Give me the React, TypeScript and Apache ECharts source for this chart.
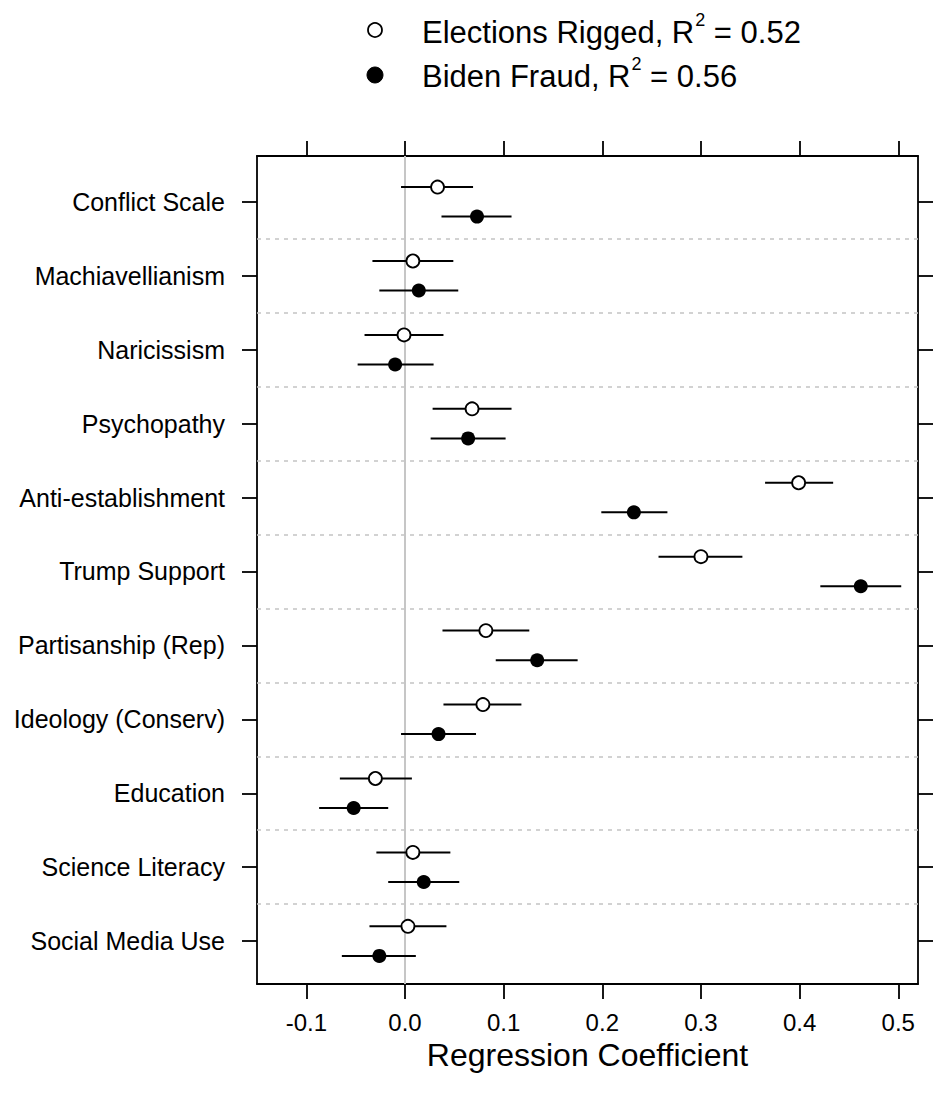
import React, { useEffect, useRef } from "react";
import * as echarts from "echarts";

const categories = [
  "Conflict Scale",
  "Machiavellianism",
  "Naricissism",
  "Psychopathy",
  "Anti-establishment",
  "Trump Support",
  "Partisanship (Rep)",
  "Ideology (Conserv)",
  "Education",
  "Science Literacy",
  "Social Media Use",
];

const riggedEst = [0.033, 0.008, -0.001, 0.068, 0.399, 0.3, 0.082, 0.079, -0.03, 0.008, 0.003];
const riggedLo = [-0.004, -0.033, -0.041, 0.028, 0.365, 0.257, 0.038, 0.039, -0.066, -0.029, -0.036];
const riggedHi = [0.069, 0.049, 0.039, 0.108, 0.434, 0.342, 0.126, 0.118, 0.007, 0.046, 0.042];

const fraudEst = [0.073, 0.014, -0.01, 0.064, 0.232, 0.462, 0.134, 0.034, -0.052, 0.019, -0.026];
const fraudLo = [0.037, -0.026, -0.048, 0.026, 0.199, 0.421, 0.092, -0.004, -0.087, -0.017, -0.064];
const fraudHi = [0.108, 0.054, 0.029, 0.102, 0.266, 0.503, 0.175, 0.072, -0.017, 0.055, 0.011];

const xTicks = [-0.1, 0, 0.1, 0.2, 0.3, 0.4, 0.5];
const yTicks = categories.map((_, i) => i + 1);
const separators = categories.slice(1).map((_, i) => i + 1.5);

const FONT = "'Liberation Sans', Arial, Helvetica, sans-serif";
const OFFSET = 0.2;

export default function App() {
  const ref = useRef<HTMLDivElement>(null);
  useEffect(() => {
    document.body.style.margin = "0";
    if (!ref.current) return;
    const chart = echarts.init(ref.current, null, { renderer: "svg" });

    const barData: number[][] = [];
    categories.forEach((_, i) => {
      barData.push([riggedLo[i], riggedHi[i], i + 1 - OFFSET]);
      barData.push([fraudLo[i], fraudHi[i], i + 1 + OFFSET]);
    });
    const riggedPts = categories.map((_, i) => [riggedEst[i], i + 1 - OFFSET]);
    const fraudPts = categories.map((_, i) => [fraudEst[i], i + 1 + OFFSET]);

    const xBase = {
      type: "value",
      min: -0.15,
      max: 0.52,
      splitLine: { show: false },
      axisLine: { show: true, onZero: false, lineStyle: { color: "#000", width: 1.8 } },
      axisTick: {
        show: true,
        inside: false,
        length: 15,
        customValues: xTicks,
        lineStyle: { color: "#000", width: 1.8 },
      },
    };
    const yBase = {
      type: "value",
      min: 0.38,
      max: 11.58,
      inverse: true,
      splitLine: { show: false },
      axisLine: { show: true, onZero: false, lineStyle: { color: "#000", width: 1.8 } },
      axisTick: {
        show: true,
        inside: false,
        length: 15,
        customValues: yTicks,
        lineStyle: { color: "#000", width: 1.8 },
      },
    };

    const supStyle = {
      fontSize: 18,
      fontFamily: FONT,
      fill: "#000",
      verticalAlign: "top",
      padding: [0, 0, 0, 1],
    };

    const legendText = (text: string, y: number) => ({
      type: "text",
      x: 422,
      y,
      style: {
        text,
        font: `31px ${FONT}`,
        fill: "#000",
        lineHeight: 42,
        verticalAlign: "middle",
        rich: {
          base: { fontSize: 31, fontFamily: FONT, fill: "#000", lineHeight: 42 },
          sup: supStyle,
        },
      },
    });

    const option: any = {
      animation: false,
      backgroundColor: "#fff",
      textStyle: { fontFamily: FONT },
      grid: {
        left: 257,
        top: 156,
        right: 16,
        bottom: 111,
        containLabel: false,
        outerBoundsMode: "none",
      },
      xAxis: [
        {
          ...xBase,
          position: "bottom",
          name: "Regression Coefficient",
          nameLocation: "middle",
          nameGap: 49,
          nameTextStyle: { fontSize: 32, color: "#000", fontFamily: FONT },
          axisLabel: {
            show: true,
            customValues: xTicks,
            margin: 26,
            fontSize: 24,
            color: "#000",
            fontFamily: FONT,
            formatter: (v: number) => v.toFixed(1),
          },
        },
        {
          ...xBase,
          position: "top",
          axisLabel: { show: false },
        },
      ],
      yAxis: [
        {
          ...yBase,
          position: "left",
          axisLabel: {
            show: true,
            customValues: yTicks,
            margin: 32,
            fontSize: 25,
            color: "#000",
            fontFamily: FONT,
            formatter: (v: number) => categories[Math.round(v) - 1] ?? "",
          },
        },
        {
          ...yBase,
          position: "right",
          axisLabel: { show: false },
        },
      ],
      graphic: [
        {
          type: "circle",
          shape: { cx: 375, cy: 30, r: 7 },
          style: { fill: "#fff", stroke: "#000", lineWidth: 1.8 },
        },
        {
          type: "circle",
          shape: { cx: 375, cy: 75, r: 8 },
          style: { fill: "#000", stroke: "#000", lineWidth: 1 },
        },
        legendText("{base|Elections Rigged, R}{sup|2}{base| = 0.52}", 32),
        legendText("{base|Biden Fraud, R}{sup|2}{base| = 0.56}", 76),
      ],
      series: [
        {
          type: "custom",
          name: "bars",
          xAxisIndex: 0,
          yAxisIndex: 0,
          z: 2,
          silent: true,
          encode: { x: [0, 1], y: 2 },
          data: barData,
          renderItem: (params: any, api: any) => {
            const p1 = api.coord([api.value(0), api.value(2)]);
            const p2 = api.coord([api.value(1), api.value(2)]);
            return {
              type: "line",
              shape: { x1: p1[0], y1: p1[1], x2: p2[0], y2: p2[1] },
              style: { stroke: "#000", lineWidth: 2 },
            };
          },
          markLine: {
            silent: true,
            symbol: "none",
            label: { show: false },
            z: 1,
            data: [
              ...separators.map((v) => ({
                yAxis: v,
                lineStyle: { type: [4, 5], color: "#c4c4c4", width: 1.5 },
              })),
              { xAxis: 0, lineStyle: { type: "solid", color: "#c6c6c6", width: 2 } },
            ],
          },
        },
        {
          type: "scatter",
          name: "Elections Rigged",
          xAxisIndex: 0,
          yAxisIndex: 0,
          z: 3,
          symbol: "circle",
          symbolSize: 13,
          itemStyle: { color: "#fff", borderColor: "#000", borderWidth: 1.8, opacity: 1 },
          data: riggedPts,
        },
        {
          type: "scatter",
          name: "Biden Fraud",
          xAxisIndex: 0,
          yAxisIndex: 0,
          z: 3,
          symbol: "circle",
          symbolSize: 14,
          itemStyle: { color: "#000", borderWidth: 0, opacity: 1 },
          data: fraudPts,
        },
      ],
    };

    chart.setOption(option);
    return () => chart.dispose();
  }, []);

  return <div ref={ref} style={{ width: 934, height: 1095 }} />;
}
